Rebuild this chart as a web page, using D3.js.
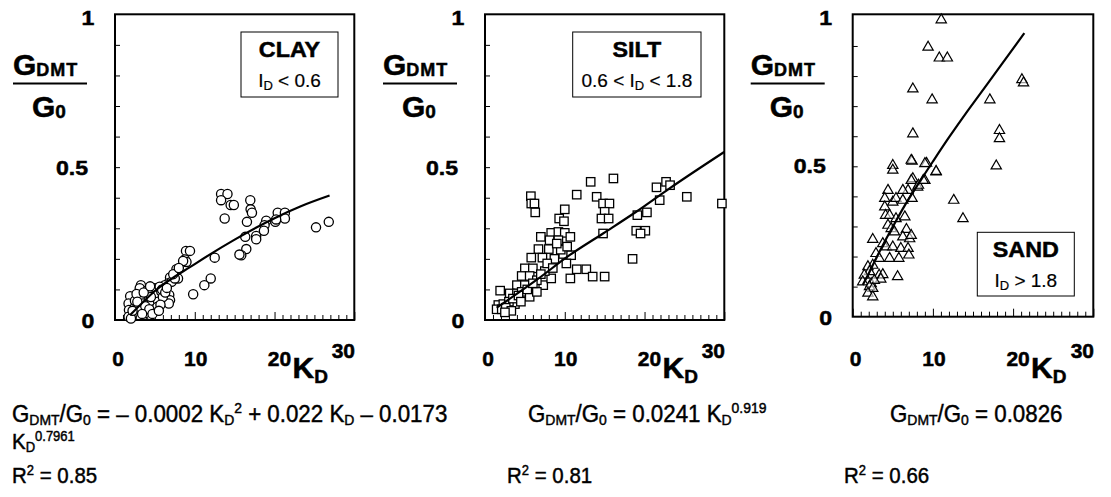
<!DOCTYPE html>
<html><head><meta charset="utf-8">
<script src="https://cdn.jsdelivr.net/npm/d3@7"></script>
<style>
html,body{margin:0;padding:0;background:#fff;}
svg{display:block;}
</style></head>
<body>
<svg id="chart" width="1111" height="497"></svg>
<script>
// ---------------- DATA ----------------
const xTickValues = [0, 10, 20, 30];
const yTickLabels = ["0", "0.5", "1"];
const yTickValues = [0, 0.5, 1];

// CLAY (circles) [K_D, G_DMT/G_0]
const clayPoints = [
 [13.3,.412],[14.1,.412],[13.3,.392],[14.5,.376],[14.9,.376],[13.75,.332],
 [16.96,.392],[17.0,.362],[17.17,.351],[16.54,.321],[16.33,.272],[17.7,.275],[17.7,.264],[16.46,.232],[15.83,.212],[15.6,.214],
 [18.96,.325],[18.75,.31],[18.67,.292],[20.1,.321],[20.4,.351],[21.3,.351],[21.3,.332],[20.2,.329],
 [25.2,.303],[26.8,.321],
 [12.5,.204],[12.0,.136],[11.2,.114],[9.8,.084],
 [8.9,.226],[9.4,.226],[8.75,.198],[8.96,.19],[8.54,.193],
 [7.7,.166],[7.9,.136],[7.3,.142],[6.9,.139],[6.7,.12],[6.25,.114],[6.8,.082],[6.9,.065],[6.75,.054],[7.1,.125],[7.5,.136],
 [3.25,.114],[3.1,.104],[1.9,.078],[1.7,.054],[1.75,.033],[2.3,.022],[2.5,.043],[3.3,.075],[4.0,.087],[4.2,.065],
 [4.6,.054],[5.0,.104],[5.2,.082],[5.6,.109],[5.8,.093],[5.4,.06],[4.8,.033],[4.4,.016],[3.75,.022],[2.9,.016],
 [2.1,.011],[1.7,.011],[2.5,.063],[3.5,.054],[4.1,.098],[4.9,.035],[5.3,.043],[6.0,.075],
 [2.0,.005],[3.0,.04],[3.8,.045],[4.5,.075],[5.9,.1],[6.3,.09],[2.7,.085],[3.6,.09],[4.3,.035],[5.7,.05],
 [6.5,.105],[7.3,.15],[8.0,.17],[2.2,.03],[3.4,.02],[4.7,.02],[5.5,.03],[2.8,.06],[4.4,.11]
];
const clayFit = [[1.9,.016],[5,.095],[10,.183],[15,.263],[20,.333],[23.3,.372],[26.9,.407]];

// SILT (squares)
const siltPoints = [
 [16.1,.463],[13.25,.452],[11.5,.41],[14.0,.403],[14.8,.381],[15.6,.381],[15.0,.354],[14.6,.332],[15.5,.332],[14.8,.283],
 [5.75,.405],[5.8,.381],[6.2,.381],[6.3,.352],[10.0,.362],[9.3,.332],[9.9,.323],
 [8.3,.285],[9.2,.288],[10.0,.285],[7.0,.272],[10.7,.272],[8.1,.261],[9.2,.261],[6.7,.232],[8.0,.232],
 [5.8,.204],[7.2,.204],[9.8,.216],[10.8,.212],[10.2,.185],[5.0,.169],[6.0,.169],[4.6,.144],[5.6,.144],
 [4.0,.114],[5.0,.114],[7.3,.114],[8.3,.136],[11.5,.166],[12.7,.166],[10.7,.136],[13.5,.142],[15.0,.142],
 [3.1,.087],[4.0,.087],[1.9,.096],[1.67,.049],[2.3,.052],[3.0,.052],[3.75,.052],[1.46,.035],[2.1,.035],
 [4.6,.092],[5.6,.076],[6.5,.092],
 [21.5,.434],[22.7,.452],[23.2,.441],[21.9,.392],[25.3,.403],[29.7,.381],[20.3,.352],[19.1,.343],
 [18.96,.292],[20.1,.292],[19.5,.283],[18.5,.2],
 [3.0,.06],[3.5,.07],[4.2,.08],[2.6,.04],[3.3,.03],[5.3,.1],[6.5,.13],[7.5,.16],[8.7,.2],[9.5,.23],
 [7.8,.185],[9.0,.25],[10.3,.24],[8.5,.17],[6.0,.12],[7.0,.15],[2.5,.025],[4.5,.06]
];
const siltFit = [[1.46,.04],[6.46,.131],[10.6,.212],[14.8,.283],[18.96,.354],[23.1,.43],[30,.55]];

// SAND (triangles)
const sandPoints = [
 [5.0,.503],[5.0,.487],[7.4,.517],[9.2,.51],[10.4,.481],[9.0,.453],[8.1,.431],[7.5,.459],[6.9,.42],[6.25,.42],
 [4.4,.42],[4.0,.393],[4.0,.365],[5.0,.381],[5.4,.393],[6.25,.387],[7.4,.393],
 [4.1,.337],[4.6,.337],[5.4,.326],[6.5,.332],[4.4,.304],[4.8,.293],[5.2,.282],
 [6.7,.29],[6.25,.265],[7.1,.259],[7.3,.27],[2.5,.257],[3.75,.243],[4.2,.232],[5.0,.232],
 [6.0,.227],[6.9,.227],[7.0,.205],[4.6,.194],[5.75,.194],[2.9,.21],[3.3,.194],[2.5,.171],
 [1.9,.166],[2.1,.15],[3.3,.138],[3.75,.14],[3.5,.125],[1.45,.138],[1.25,.116],[2.3,.11],[2.7,.121],
 [5.6,.133],[2.1,.1],[2.5,.094],[1.9,.078],[2.5,.066],
 [12.6,.387],[13.75,.326],
 [11.04,.987],[9.4,.896],[10.8,.86],[11.8,.86],[7.5,.757],[9.9,.721],[17.1,.721],[21.1,.788],[21.3,.777],
 [18.3,.619],[18.3,.592],[17.9,.501],[7.5,.608],[7.3,.52],[9.0,.509],[10.4,.483],[7.3,.453],[8.2,.437],[8.8,.453]
];
const sandFit = [[1.25,.105],[2,.144],[3,.198],[4,.25],[5,.299],[6.5,.37],[8,.434],[10,.516],[12,.596],[14,.672],[16,.745],[18,.818],[21.4,.943]];

// ---------------- DRAW ----------------
const svg = d3.select("#chart");
const SANS = "'Liberation Sans', Arial, Helvetica, sans-serif";

// text made of parts; placed with translate + horizontal scale
function rich(g, x, y, parts, o) {
  const t = g.append("text")
    .attr("transform", `translate(${x},${y}) scale(${o.sx || 1},1)`)
    .attr("font-family", SANS).attr("font-size", o.size)
    .attr("font-weight", o.weight || "normal").attr("fill", "#000")
    .attr("stroke", "#000").attr("stroke-width", o.sw !== undefined ? o.sw : (o.weight === "bold" ? 0.5 : 0.3));
  if (o.anchor) t.attr("text-anchor", o.anchor);
  let cur = 0;
  parts.forEach(p => {
    let shift = 0, size = o.size;
    if (p.s === "sub") { shift = o.subShift; size = o.subSize; }
    if (p.s === "sup") { shift = -o.supShift; size = o.supSize; }
    const ts = t.append("tspan").attr("dy", shift - cur).attr("font-size", size)
      .style("white-space", "pre").text(p.t);
    if (p.ls !== undefined) ts.attr("letter-spacing", p.ls);
    cur = shift;
  });
  return t;
}

const panels = [
  {pts: clayPoints, fit: clayFit, marker: "circle", left: 115, right: 354.3, top: 14.3, y1: 14.3, bottom: 320, yb: [8, 8, 11],
   legend: {x: 241, y: 32, w: 97, h: 65, title: "CLAY",
     cond: [{t:"I"},{t:"D",s:"sub"},{t:" < 0.6"}]}},
  {pts: siltPoints, fit: siltFit, marker: "square", left: 485, right: 724.3, top: 14.3, y1: 14.3, bottom: 320, yb: [8, 8, 11],
   legend: {x: 572.7, y: 32, w: 128.3, h: 65, title: "SILT",
     cond: [{t:"0.6 < I"},{t:"D",s:"sub"},{t:" < 1.8"}]}},
  {pts: sandPoints, fit: sandFit, marker: "triangle", left: 852.7, right: 1093.3, top: 14.3, y1: 15.9, bottom: 316.7, yb: [8, 7, 9],
   legend: {x: 977.3, y: 232.3, w: 97, h: 63.7, title: "SAND",
     cond: [{t:"I"},{t:"D",s:"sub"},{t:" > 1.8"}]}}
];

panels.forEach(P => {
  const g = svg.append("g");
  const x = d3.scaleLinear().domain([0, 30]).range([P.left, P.right]);
  const y = d3.scaleLinear().domain([0, 1]).range([P.bottom, P.y1]);

  // inner ticks
  const ba = g.append("g").attr("transform", `translate(0,${P.bottom})`)
    .call(d3.axisBottom(x).tickValues(d3.range(0, 31, 1)).tickSize(-5).tickFormat(""));
  ba.select(".domain").remove();
  ba.selectAll(".tick line").attr("stroke", "#000").attr("stroke-width", 1)
    .attr("y2", d => d % 10 === 0 ? -8 : -5);
  const la = g.append("g").attr("transform", `translate(${P.left},0)`)
    .call(d3.axisLeft(y).tickValues(d3.range(1, 10).map(i => i / 10)).tickSize(-5).tickFormat(""));
  la.select(".domain").remove();
  la.selectAll(".tick line").attr("stroke", "#000").attr("stroke-width", 1);

  // frame
  g.append("rect").attr("x", P.left).attr("y", P.top)
    .attr("width", P.right - P.left).attr("height", P.bottom - P.top)
    .attr("fill", "none").attr("stroke", "#000").attr("stroke-width", 2);

  // y tick labels
  const yX = [-27, -43, -27];
  yTickValues.forEach((v, i) => {
    rich(g, P.left + yX[i], y(v) + P.yb[i], [{t: yTickLabels[i]}],
      {size: 21, weight: "bold", anchor: "middle", sx: 1.1});
  });
  // x tick labels
  const xOff = {0: [3, 366], 10: [1, 366], 20: [5, 366], 30: [-11, 358]};
  xTickValues.forEach(v => {
    rich(g, x(v) + xOff[v][0], xOff[v][1], [{t: String(v)}],
      {size: 21, weight: "bold", anchor: "middle", sx: 1.0});
  });
  // K_D axis title
  rich(g, x(20) + 18, 378, [{t:"K"},{t:"D",s:"sub"}],
    {size: 30, weight: "bold", subSize: 19, subShift: 5});

  // y axis title as fraction
  const cx = P.left - 65;
  rich(g, cx - 37, 75, [{t:"G"},{t:"DMT",s:"sub",ls:1}],
    {size: 30, weight: "bold", subSize: 18, subShift: 1});
  g.append("line").attr("x1", cx - 37).attr("x2", cx + 37).attr("y1", 83.5).attr("y2", 83.5)
    .attr("stroke", "#000").attr("stroke-width", 2.2);
  rich(g, cx - 18, 117, [{t:"G"},{t:"0",s:"sub"}],
    {size: 30, weight: "bold", subSize: 19, subShift: 1});

  // data markers
  const mg = g.append("g");
  if (P.marker === "circle") {
    mg.selectAll("circle").data(P.pts).join("circle")
      .attr("cx", d => x(d[0])).attr("cy", d => y(d[1])).attr("r", 4.6)
      .attr("fill", "#fff").attr("stroke", "#000").attr("stroke-width", 1.3);
  } else if (P.marker === "square") {
    mg.selectAll("rect").data(P.pts).join("rect")
      .attr("x", d => x(d[0]) - 4.2).attr("y", d => y(d[1]) - 4.2).attr("width", 8.4).attr("height", 8.4)
      .attr("fill", "#fff").attr("stroke", "#000").attr("stroke-width", 1.3);
  } else {
    const tri = d3.symbol().type(d3.symbolTriangle).size(46);
    mg.selectAll("path").data(P.pts).join("path")
      .attr("d", tri).attr("transform", d => `translate(${x(d[0])},${y(d[1])})`)
      .attr("fill", "#fff").attr("fill-opacity", 0.6).attr("stroke", "#000").attr("stroke-width", 1.2);
  }

  // fitted curve
  g.append("path").datum(P.fit)
    .attr("d", d3.line().curve(d3.curveMonotoneX).x(d => x(d[0])).y(d => y(d[1])))
    .attr("fill", "none").attr("stroke", "#000").attr("stroke-width", 2.2);

  // legend box
  const L = P.legend;
  g.append("rect").attr("x", L.x).attr("y", L.y).attr("width", L.w).attr("height", L.h)
    .attr("fill", "#fff").attr("stroke", "#000").attr("stroke-width", 1);
  rich(g, L.x + L.w / 2, L.y + 25, [{t: L.title}],
    {size: 22, weight: "bold", anchor: "middle", sx: 1.06});
  rich(g, L.x + L.w / 2, L.y + 55, L.cond,
    {size: 19, subSize: 13, subShift: 3, anchor: "middle", sw: 0.2});
});

// ---------------- BOTTOM EQUATIONS ----------------
const eq = svg.append("g");
const eq1 = {size: 24, subSize: 15, subShift: 3, supSize: 15, supShift: 9, sx: 0.93, sw: 0.45};
const eq2 = {size: 22, subSize: 14, subShift: 3, supSize: 14, supShift: 8, sx: 0.93, sw: 0.45};
rich(eq, 12, 422, [{t:"G"},{t:"DMT",s:"sub"},{t:"/G"},{t:"0",s:"sub"},{t:" = – 0.0002 K"},{t:"D",s:"sub"},{t:"2",s:"sup"},
  {t:" + 0.022 K"},{t:"D",s:"sub"},{t:" – 0.0173"}], eq1);
rich(eq, 12, 449, [{t:"K"},{t:"D",s:"sub"},{t:"0.7961",s:"sup"}], eq2);
rich(eq, 12, 483, [{t:"R"},{t:"2",s:"sup"},{t:" = 0.85"}], eq2);
rich(eq, 528, 422, [{t:"G"},{t:"DMT",s:"sub"},{t:"/G"},{t:"0",s:"sub"},{t:" = 0.0241 K"},{t:"D",s:"sub"},{t:"0.919",s:"sup"}], eq1);
rich(eq, 507, 483, [{t:"R"},{t:"2",s:"sup"},{t:" = 0.81"}], eq2);
rich(eq, 890, 422, [{t:"G"},{t:"DMT",s:"sub"},{t:"/G"},{t:"0",s:"sub"},{t:" = 0.0826"}], eq1);
rich(eq, 844, 483, [{t:"R"},{t:"2",s:"sup"},{t:" = 0.66"}], eq2);
</script>
</body></html>
